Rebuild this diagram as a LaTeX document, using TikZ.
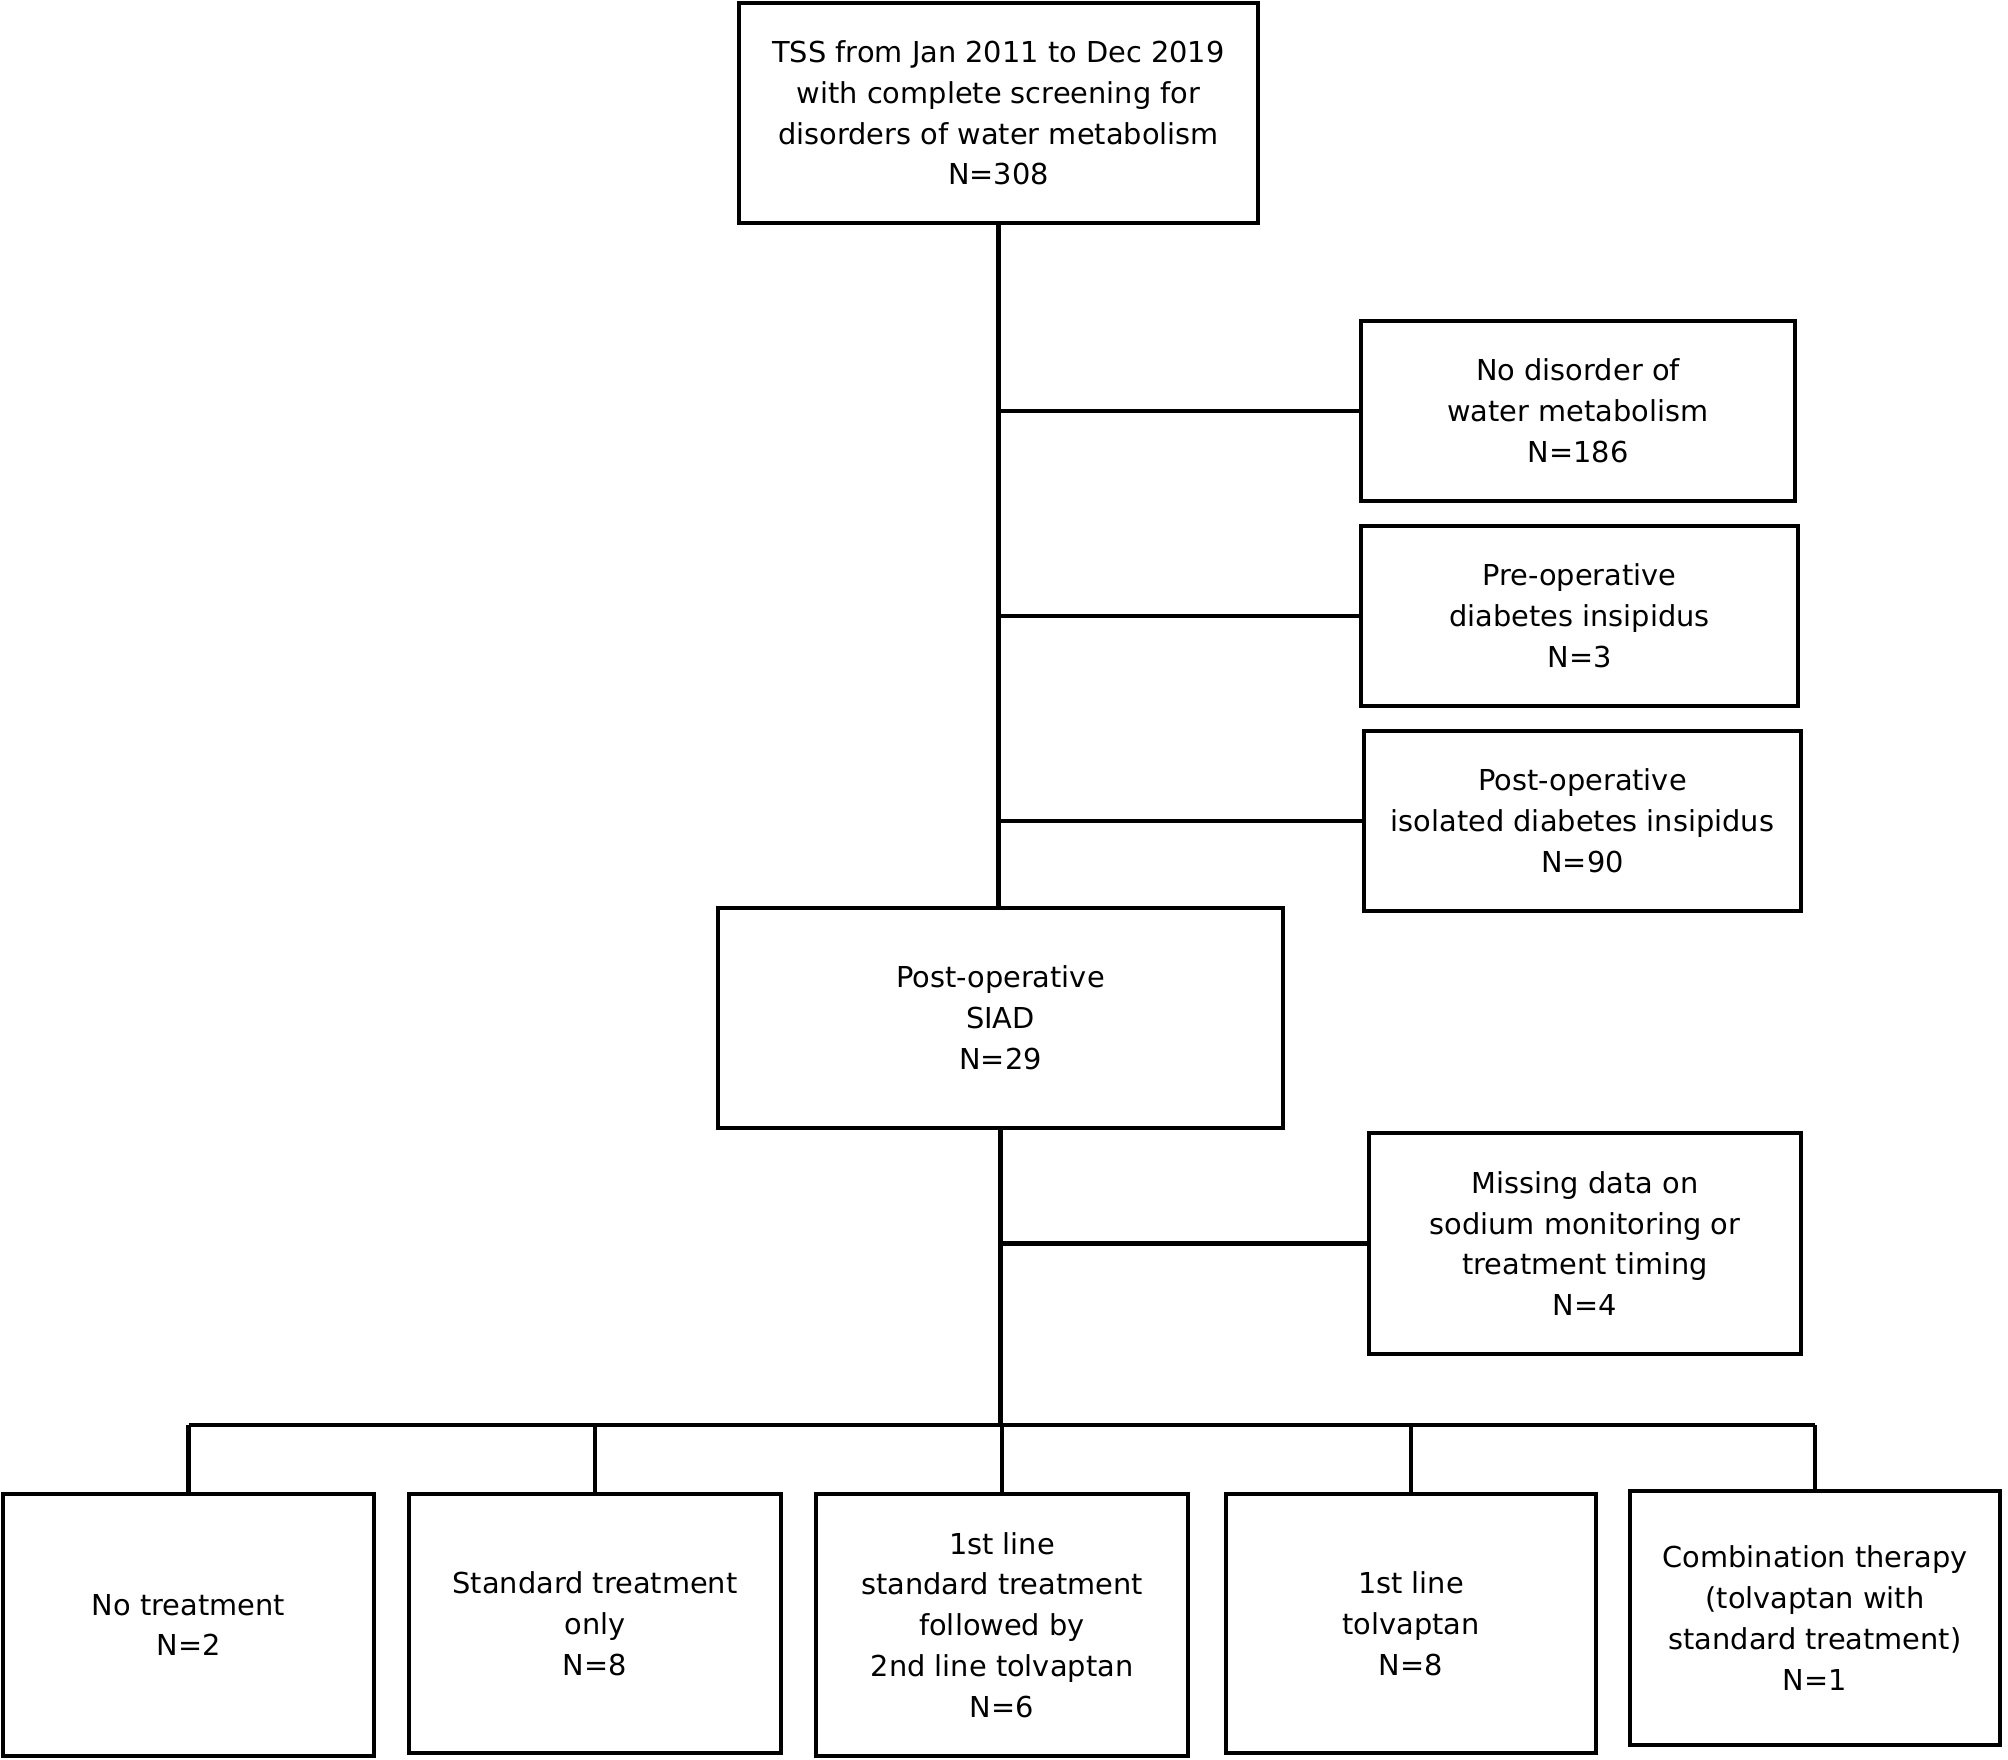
\documentclass[tikz,border=0pt]{standalone}
\usepackage{fontspec}
\setmainfont{DejaVu Sans}
\begin{document}
\begin{tikzpicture}[x=0.01cm,y=-0.01cm,
  box/.style={draw, line width=1.3pt, align=center, inner sep=0pt,
    font=\fontsize{8.2}{11.6}\selectfont},
  conn/.style={line width=1.2pt}]
\useasboundingbox (0,0) rectangle (2008,1759);
\node[box, minimum width=5.19cm, minimum height=2.20cm] (top) at (998.5,113)
  {TSS from Jan 2011 to Dec 2019\\with complete screening for\\disorders of water metabolism\\N=308};
\node[box, minimum width=4.34cm, minimum height=1.80cm] (r1) at (1578,411)
  {No disorder of\\water metabolism\\N=186};
\node[box, minimum width=4.37cm, minimum height=1.80cm] (r2) at (1579.5,616)
  {Pre-operative\\diabetes insipidus\\N=3};
\node[box, minimum width=4.37cm, minimum height=1.80cm] (r3) at (1582.5,821)
  {Post-operative\\isolated diabetes insipidus\\N=90};
\node[box, minimum width=5.65cm, minimum height=2.20cm] (siad) at (1000.5,1018)
  {Post-operative\\SIAD\\N=29};
\node[box, minimum width=4.32cm, minimum height=2.21cm] (miss) at (1585,1243.5)
  {Missing data on\\sodium monitoring or\\treatment timing\\N=4};
\node[box, minimum width=3.71cm, minimum height=2.62cm] (b1) at (188.5,1625)
  {No treatment\\N=2};
\node[box, minimum width=3.72cm, minimum height=2.59cm] (b2) at (595,1623.5)
  {Standard treatment\\only\\N=8};
\node[box, minimum width=3.72cm, minimum height=2.62cm] (b3) at (1002,1625)
  {1st line\\standard treatment\\followed by\\2nd line tolvaptan\\N=6};
\node[box, minimum width=3.70cm, minimum height=2.59cm] (b4) at (1411,1623.5)
  {1st line\\tolvaptan\\N=8};
\node[box, minimum width=3.70cm, minimum height=2.54cm] (b5) at (1815,1618)
  {Combination therapy\\(tolvaptan with\\standard treatment)\\N=1};
\coordinate (bar) at (1000,1425);
% connectors
\draw[conn] (top.south) -- (top.south |- siad.north);
\draw[conn] (top.south |- r1.west) -- (r1.west);
\draw[conn] (top.south |- r2.west) -- (r2.west);
\draw[conn] (top.south |- r3.west) -- (r3.west);
\draw[conn] (siad.south) -- (siad.south |- bar);
\draw[conn] (siad.south |- miss.west) -- (miss.west);
\draw[conn] (b1.north |- bar) -- (b5.north |- bar);
\draw[conn] (b1.north |- bar) -- (b1.north);
\draw[conn] (b2.north |- bar) -- (b2.north);
\draw[conn] (b3.north |- bar) -- (b3.north);
\draw[conn] (b4.north |- bar) -- (b4.north);
\draw[conn] (b5.north |- bar) -- (b5.north);
\end{tikzpicture}
\end{document}
